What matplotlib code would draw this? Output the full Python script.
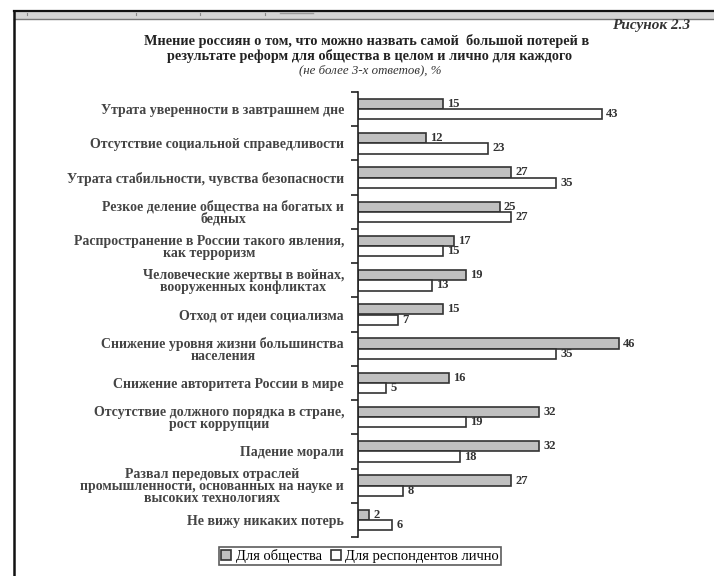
import numpy as np
import matplotlib
matplotlib.use("Agg")
import matplotlib.pyplot as plt
from matplotlib.lines import Line2D
from matplotlib.patches import Rectangle

plt.rcParams['font.family'] = ['Liberation Serif', 'DejaVu Serif']

# Данные
categories = [
    "Утрата уверенности в завтрашнем дне",
    "Отсутствие социальной справедливости",
    "Утрата стабильности, чувства безопасности",
    "Резкое деление общества на богатых и\nбедных",
    "Распространение в России такого явления,\nкак терроризм",
    "Человеческие жертвы в войнах,\nвооруженных конфликтах",
    "Отход от идеи социализма",
    "Снижение уровня жизни большинства\nнаселения",
    "Снижение авторитета России в мире",
    "Отсутствие должного порядка в стране,\nрост коррупции",
    "Падение морали",
    "Развал передовых отраслей\nпромышленности, основанных на науке и\nвысоких технологиях",
    "Не вижу никаких потерь",
]
society = [15, 12, 27, 25, 17, 19, 15, 46, 16, 32, 32, 27, 2]
personal = [43, 23, 35, 27, 15, 13, 7, 35, 5, 19, 18, 8, 6]
series_names = ["Для общества", "Для респондентов лично"]

title_lines = [
    "Мнение россиян о том, что можно назвать самой  большой потерей в",
    "результате реформ для общества в целом и лично для каждого",
]
subtitle = "(не более 3-х ответов), %"
fig_label = "Рисунок 2.3"

W, H = 714, 576
fig = plt.figure(figsize=(W / 100, H / 100), dpi=100)
fig.patch.set_facecolor("white")

# рамка документа
fig.add_artist(Rectangle((14 / W, 1 - 19 / H), 1, 8 / H, transform=fig.transFigure,
                         facecolor="#d4d4d4", edgecolor="none"))
fig.add_artist(Line2D([14 / W, 1], [1 - 11 / H, 1 - 11 / H], transform=fig.transFigure,
                      color="#111111", lw=1.6))
fig.add_artist(Line2D([14 / W, 1], [1 - 19 / H, 1 - 19 / H], transform=fig.transFigure,
                      color="#777777", lw=1.0))
fig.add_artist(Line2D([14 / W, 14 / W], [0, 1 - 11 / H], transform=fig.transFigure,
                      color="#111111", lw=1.8))
for px in [27, 136, 200, 265]:
    fig.add_artist(Line2D([px / W, px / W], [1 - 15 / H, 1 - 13 / H], transform=fig.transFigure,
                          color="#888888", lw=0.8))
fig.add_artist(Line2D([280 / W, 313 / W], [1 - 13 / H, 1 - 13 / H], transform=fig.transFigure,
                      color="#999999", lw=1.0))

# заголовки
fig.text(690 / W, 1 - 26 / H, fig_label, ha="right", va="center",
         fontsize=11, style="italic", fontweight="bold", color="#333333")
fig.text(367 / W, 1 - 41.5 / H, title_lines[0], ha="center", va="center",
         fontsize=10.3, fontweight="bold", color="#222222")
fig.text(370 / W, 1 - 56 / H, title_lines[1], ha="center", va="center",
         fontsize=10.3, fontweight="bold", color="#222222")
fig.text(370 / W, 1 - 70.5 / H, subtitle, ha="center", va="center",
         fontsize=9.3, style="italic", color="#333333")

ax = fig.add_axes([358 / W, 1 - 537 / H, 340 / W, 445 / H])
y = np.arange(len(categories))
h = 0.3
b1 = ax.barh(y - h / 2, society, height=h, color="#c0c0c0", edgecolor="#333333",
             linewidth=1.2, label=series_names[0])
b2 = ax.barh(y + h / 2, personal, height=h, color="white", edgecolor="#333333",
             linewidth=1.2, label=series_names[1])

for bars in (b1, b2):
    for rect in bars:
        w = rect.get_width()
        ax.annotate(f"{int(w)}", (w, rect.get_y() + rect.get_height() / 2),
                    xytext=(3, 0), textcoords="offset points", ha="left", va="center",
                    fontsize=9, fontweight="bold", color="#333333")

ax.set_xlim(0, 60)
ax.set_ylim(len(categories) - 0.5, -0.5)
for s in ["top", "right", "bottom"]:
    ax.spines[s].set_visible(False)
ax.spines["left"].set_color("#222222")
ax.spines["left"].set_linewidth(1.2)
ax.set_xticks([])
ax.set_yticks(y)
ax.set_yticklabels(categories, fontsize=10, fontweight="bold", color="#444444",
                   multialignment="center", linespacing=0.9)
ax.tick_params(axis="y", which="major", length=0, pad=10)
ax.set_yticks(np.arange(-0.5, len(categories)), minor=True)
ax.tick_params(axis="y", which="minor", length=5, width=1.2, color="#222222")

leg = fig.legend(handles=[b1, b2], labels=series_names, loc="center",
                 bbox_to_anchor=(360 / W, 1 - 556 / H), ncol=2, fontsize=10.5,
                 frameon=True, fancybox=False, edgecolor="#333333",
                 handlelength=0.7, handleheight=0.7, handletextpad=0.3,
                 columnspacing=0.6, borderpad=0.15, borderaxespad=0)
leg.get_frame().set_linewidth(1.2)

fig.savefig("out.png", dpi=100)
